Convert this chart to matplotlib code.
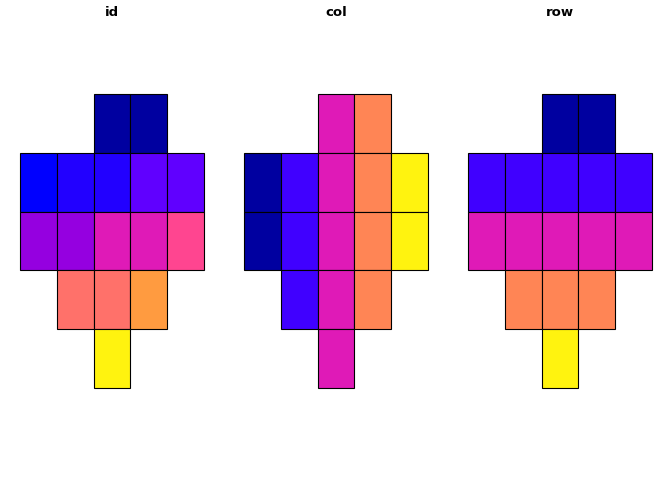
import matplotlib
matplotlib.use("Agg")
import matplotlib.pyplot as plt
from matplotlib.colors import ListedColormap, BoundaryNorm

# cell grid (column, row) for each of the 16 cells, ids in reading order
cell_col = [3, 4, 1, 2, 3, 4, 5, 1, 2, 3, 4, 5, 2, 3, 4, 3]
cell_row = [1, 1, 2, 2, 2, 2, 2, 3, 3, 3, 3, 3, 4, 4, 4, 5]
cell_id = list(range(1, 17))

panel_titles = ["id", "col", "row"]

# palettes
id_colors = ["#0000A0", "#0000FF", "#2200FF", "#6000FF", "#9500E0",
             "#DF1AB7", "#FF4590", "#FF716A", "#FF9B40", "#FFF30F"]
id_breaks = [0.5, 2.5, 3.5, 5.5, 7.5, 9.5, 11.5, 12.5, 14.5, 15.5, 16.5]
five_colors = ["#0000A0", "#4000FF", "#DF1AB7", "#FF8555", "#FFF30F"]
five_breaks = [0.5, 1.5, 2.5, 3.5, 4.5, 5.5]

fig = plt.figure(figsize=(6.72, 4.8), dpi=100)

values = [cell_id, cell_col, cell_row]
palettes = [(id_colors, id_breaks), (five_colors, five_breaks),
            (five_colors, five_breaks)]

for k, (title, vals, (cols, brks)) in enumerate(zip(panel_titles, values, palettes)):
    cmap = ListedColormap(cols)
    norm = BoundaryNorm(brks, cmap.N)
    ax = fig.add_axes([(20 + 224 * k) / 672, 92 / 480, 184 / 672, 294 / 480])
    bars = ax.bar(cell_col, 1, bottom=[r - 0.5 for r in cell_row], width=1,
                  color=[cmap(norm(v)) for v in vals], edgecolor="black",
                  linewidth=0.8)
    for b in bars:
        b.set_clip_on(False)
    ax.set_xlim(0.5, 5.5)
    ax.set_ylim(5.5, 0.5)
    ax.axis("off")
    fig.text((112 + 224 * k) / 672, 1 - 12 / 480, title, ha="center", va="center",
             fontsize=9.5, fontweight="bold")

fig.savefig("out.png", dpi=100)
